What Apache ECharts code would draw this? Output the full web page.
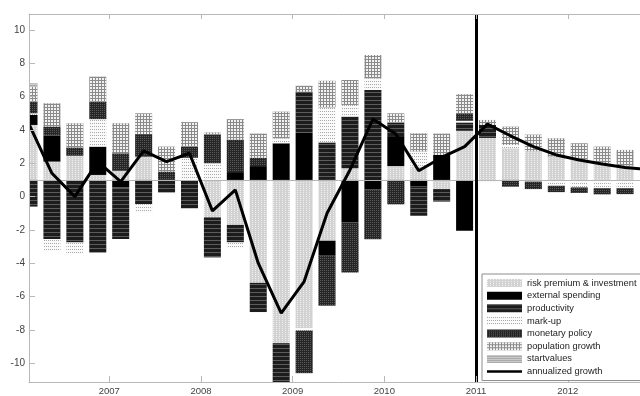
<!DOCTYPE html>
<html>
<head>
<meta charset="utf-8">
<script src="https://cdn.jsdelivr.net/npm/echarts@6/dist/echarts.min.js"></script>
<style>html,body{margin:0;padding:0;background:#fff;overflow:hidden;width:640px;height:396px}#c{width:648px;height:396px}</style>
</head>
<body>
<div id="c"></div>
<script>
// quarters (bar centres), tick labels
const quarters = ['2006Q1','2006Q2','2006Q3','2006Q4','2007Q1','2007Q2','2007Q3','2007Q4',
  '2008Q1','2008Q2','2008Q3','2008Q4','2009Q1','2009Q2','2009Q3','2009Q4',
  '2010Q1','2010Q2','2010Q3','2010Q4','2011Q1','2011Q2','2011Q3','2011Q4',
  '2012Q1','2012Q2','2012Q3','2012Q4'];
const yearTicks = [2007, 2008, 2009, 2010, 2011, 2012];
const yTicks = [-10, -8, -6, -4, -2, 0, 2, 4, 6, 8, 10];
const baseline = 1;            // steady-state growth: bars start here
const forecastStart = 2011;

// contributions (deviation from baseline)
const riskPremium = [3.3,1.1,1.45,0.3,0.55,1.4,0,0,-2.25,-2.7,-6.18,-9.8,-8.9,-3.65,0.7,0,0.83,0.8,-0.55,2.95,2.52,1.9,1.72,1.4,1.2,1.0,0.85];
const externalSpending = [0.6,1.56,0,1.7,-0.45,0,0,0,0,0.47,0.83,2.2,2.82,-0.9,-2.55,-0.56,1.8,-0.4,1.5,-3.05,0,0,0,0,0,0,0];
const productivity = [-1.6,-3.55,-3.75,-4.35,-3.1,-1.46,-0.75,-1.7,-2.4,-1.05,-1.75,-2.5,2.48,2.25,3.1,5.4,0.8,-1.75,-0.75,0.5,0.78,0,0,0,0,0,0];
const markUp = [0.1,-0.7,-0.7,1.65,0,-0.5,0,1.33,1.0,-0.35,0,0.3,-0.15,2.1,0.7,0.7,0,0.9,0,0.1,-0.16,0.2,-0.1,-0.35,-0.45,-0.5,-0.5];
const monetaryPolicy = [0.7,0.54,0.5,1.05,1.05,1.35,0.5,0.67,1.7,1.95,0.5,0,-2.55,-3.0,-3.0,-3.0,-1.46,0,0,0.45,0,-0.4,-0.45,-0.38,-0.33,-0.36,-0.35];
const populationGrowth = [0.9,1.4,1.45,1.5,1.8,1.25,1.5,1.47,0.15,1.23,1.45,1.6,0.35,1.6,1.5,1.4,0.57,1.1,1.28,1.15,0.3,1.1,1.0,1.1,1.0,1.0,0.95];
const startValues = [0.2,0,0,0,0,0,0,0,0,0,0,0,0,0,0,0,0,0,0,0,0,0,0,0,0,0,0];
// annualized growth (level)
const growth = [4.35,1.4,0.0,2.1,0.9,2.75,2.1,2.6,-0.86,0.4,-4.0,-7.0,-5.1,-1.0,1.6,4.65,3.75,1.55,2.35,3.0,4.35,3.65,3.0,2.5,2.2,1.95,1.75,1.62];

function qx(q){ const y = +q.slice(0,4), n = +q.slice(5); return y + (n - 0.5) / 4; }
const xMin = qx(quarters[0]), xMax = qx(quarters[quarters.length - 1]);

const FONT = 'Liberation Sans, Arial, sans-serif';
const GRID = { left: 29, top: 14, right: 0, bottom: 12 };

function barSeries(name, arr, color, decal){
  return {
    name, type: 'bar', stack: 'c', barWidth: 17, z: 2, xAxisIndex: 0,
    itemStyle: Object.assign({ color }, decal ? { decal } : {}),
    emphasis: { disabled: true },
    data: arr.slice()
  };
}

const series = [
  { type: 'line', data: [], z: 1, silent: true, xAxisIndex: 0,
    markLine: { silent: true, symbol: 'none', label: { show: false },
      lineStyle: { color: '#b4b4b4', width: 1, type: 'solid' },
      data: [{ yAxis: 0 }] } },
  barSeries('risk premium & investment', riskPremium, '#d2d2d2',
    { symbol: 'rect', symbolSize: 1, color: '#f0f0f0', dashArrayX: [1, 2], dashArrayY: [1, 1] }),
  barSeries('external spending', externalSpending, '#000000', null),
  barSeries('productivity', productivity, '#1c1c1c',
    { symbol: 'rect', symbolSize: 1, color: 'rgba(255,255,255,0.28)', dashArrayX: [1, 0], dashArrayY: [1, 3] }),
  barSeries('mark-up', markUp, '#fafafa',
    { symbol: 'rect', symbolSize: 1, color: '#a8a8a8', dashArrayX: [1, 1], dashArrayY: [1, 2] }),
  barSeries('monetary policy', monetaryPolicy, '#262626',
    { symbol: 'rect', symbolSize: 1, color: '#595959', dashArrayX: [1, 1], dashArrayY: [1, 1] }),
  barSeries('population growth', populationGrowth, '#8a8a8a',
    { symbol: 'rect', symbolSize: 1, color: '#f2f2f2', dashArrayX: [2, 1], dashArrayY: [2, 1] }),
  barSeries('startvalues', startValues, '#a6a6a6',
    { symbol: 'rect', symbolSize: 1, color: '#cfcfcf', dashArrayX: [1, 0], dashArrayY: [1, 1] }),
  { name: 'annualized growth', type: 'line', z: 5, symbol: 'none', showSymbol: false, xAxisIndex: 0,
    lineStyle: { color: '#000', width: 3 }, itemStyle: { color: '#000' },
    emphasis: { disabled: true },
    data: growth.map(v => v - baseline) },
  { type: 'line', data: [], z: 6, silent: true, xAxisIndex: 1,
    markLine: { silent: true, symbol: 'none', label: { show: false },
      lineStyle: { color: '#000', width: 3, type: 'solid' },
      data: [{ xAxis: forecastStart }] } }
];

const axisGray = '#b8b8b8';
const option = {
  animation: false,
  grid: GRID,
  graphic: [{ type: 'rect', silent: true, z: 8,
    shape: { x: GRID.left - 12, y: GRID.top, width: 12, height: 370 },
    style: { fill: '#fff' } }],
  xAxis: [
    { type: 'category', data: quarters, boundaryGap: false, show: false },
    { type: 'value', min: xMin, max: xMax, position: 'bottom', z: 10,
      axisLine: { show: true, onZero: false, lineStyle: { color: axisGray, width: 1 } },
      axisTick: { show: true, inside: true, length: 6, customValues: yearTicks, lineStyle: { color: axisGray } },
      axisLabel: { show: true, customValues: yearTicks, formatter: v => String(v), color: '#444', fontSize: 9.5, fontFamily: FONT, margin: 4 },
      splitLine: { show: false } },
    { type: 'value', min: xMin, max: xMax, position: 'top', z: 10,
      axisLine: { show: true, onZero: false, lineStyle: { color: axisGray, width: 1 } },
      axisTick: { show: true, inside: true, length: 5, customValues: yearTicks, lineStyle: { color: axisGray } },
      axisLabel: { show: false }, splitLine: { show: false } }
  ],
  yAxis: {
    type: 'value', min: -11.13 - baseline, max: 10.96 - baseline, z: 10,
    axisLine: { show: true, onZero: false, lineStyle: { color: axisGray, width: 1 } },
    axisTick: { show: true, inside: true, length: 6, customValues: yTicks.map(v => v - baseline), lineStyle: { color: axisGray } },
    axisLabel: { show: true, customValues: yTicks.map(v => v - baseline),
      formatter: v => String(Math.round(v + baseline)), color: '#444', fontSize: 10, fontFamily: FONT, margin: 4 },
    splitLine: { show: false }
  },
  legend: {
    orient: 'vertical', left: 482, top: 274,
    data: ['risk premium & investment','external spending','productivity','mark-up','monetary policy','population growth','startvalues','annualized growth'],
    itemWidth: 35, itemHeight: 8, itemGap: 0.65,
    padding: [3, 8, 3, 5],
    backgroundColor: '#fff', borderColor: '#8c8c8c', borderWidth: 1, borderRadius: 0,
    icon: 'rect',
    textStyle: { color: '#222', fontSize: 9.3, fontFamily: FONT, lineHeight: 12 },
    selectedMode: false, z: 12
  },
  series
};
option.legend.data = option.legend.data.map(n => n === 'annualized growth'
  ? { name: n, icon: 'path://M0,4 L35,4 L35,6.5 L0,6.5 Z', itemStyle: { color: '#000' } } : n);

const chart = echarts.init(document.getElementById('c'), null, { renderer: 'canvas' });
chart.setOption(option);
</script>
</body>
</html>
